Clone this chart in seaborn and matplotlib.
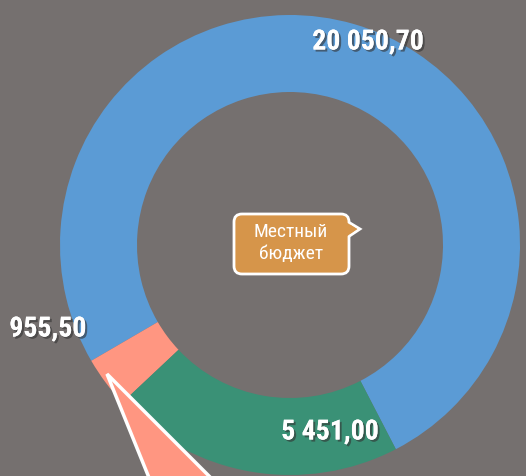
import numpy as np
import matplotlib
matplotlib.use('Agg')
import matplotlib.pyplot as plt
import matplotlib.patheffects as pe
from matplotlib import font_manager
from matplotlib.patches import FancyBboxPatch, Polygon
import seaborn as sns

# data, in the drawing order of the ring (counter-clockwise)
categories = ['blue', 'salmon', 'green']
values = [20050.70, 955.50, 5451.00]
value_labels = ['20 050,70', '955,50', '5 451,00']
center_title = 'Местный\nбюджет'

colors = ['#5B9BD5', '#FF9681', '#3A9176']
bg = '#75706F'

sns.set_theme(style='white')
have = {f.name for f in font_manager.fontManager.ttflist}
wanted = ['Liberation Sans Narrow', 'DejaVu Sans Condensed', 'Roboto Condensed', 'Roboto']
fam = [f for f in wanted if f in have][:1]
narrow = fam and fam[0] != 'Roboto'
plt.rcParams['font.family'] = fam + ['DejaVu Sans']

W, H = 526, 476
fig = plt.figure(figsize=(W / 100, H / 100), dpi=100, facecolor=bg)
ax = fig.add_axes([0, 0, 1, 1])
ax.set_facecolor(bg)

# pixel coords -> data coords (y flipped)
def py(y):
    return H - y

cx, cy, R = 290, py(245), 230
ax.pie(values, colors=colors, startangle=-62.6, counterclock=True,
       radius=R, center=(cx, cy),
       wedgeprops=dict(width=77, linewidth=0, antialiased=True))

ax.set_xlim(0, W)
ax.set_ylim(0, H)
ax.set_aspect('equal')
ax.axis('off')

shadow = [pe.withSimplePatchShadow(offset=(1.5, -1.5), shadow_rgbFace='#333333', alpha=0.6), pe.Normal()]
label_pos = [(368, 42), (48, 329), (330, 432)]
lsize = 20 if narrow else 18
for txt, (x, y) in zip(value_labels, label_pos):
    ax.text(x, py(y), txt, color='white', fontsize=lsize, fontweight='bold',
            ha='center', va='center', path_effects=shadow, zorder=6)

# salmon callout pointer at bottom
ptr = Polygon([(107, py(374)), (156, py(495)), (228, py(495))], closed=True,
              facecolor=colors[1], edgecolor='white', linewidth=2.5, zorder=5)
ax.add_patch(ptr)

# center callout box
box_col = '#D6954A'
tri = Polygon([(345, py(220)), (360, py(229)), (345, py(239))], closed=True,
              facecolor=box_col, edgecolor='white', linewidth=2, zorder=3)
ax.add_patch(tri)
box = FancyBboxPatch((240, py(268)), 103, 48, boxstyle='round,pad=6,rounding_size=8',
                     facecolor=box_col, edgecolor='white', linewidth=2, zorder=4)
ax.add_patch(box)
cover = Polygon([(346, py(222)), (357, py(229)), (346, py(237))], closed=True,
                facecolor=box_col, edgecolor='none', zorder=5)
ax.add_patch(cover)
ax.text(291, py(243), center_title, color='white', fontsize=14 if narrow else 12.5,
        ha='center', va='center', linespacing=1.3, zorder=6)

fig.savefig('out.png', dpi=100, facecolor=bg)
